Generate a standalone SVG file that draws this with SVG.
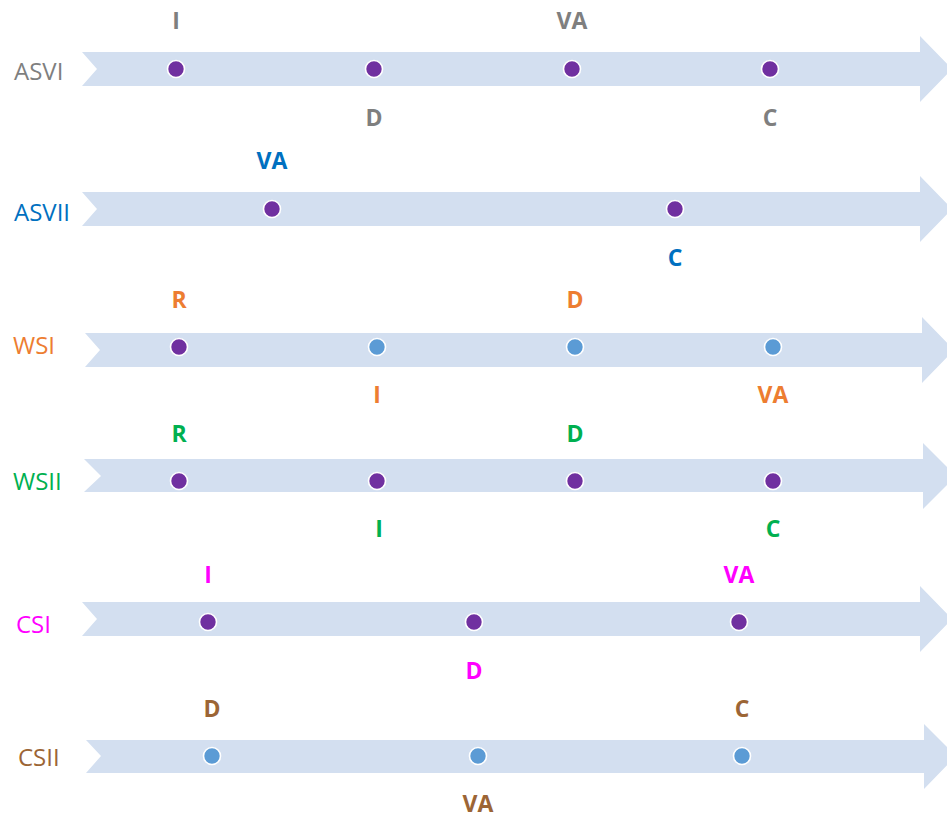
<svg xmlns="http://www.w3.org/2000/svg" width="947" height="819" viewBox="0 0 947 819">
<style>
.band{fill:#d3dff0}
.dp{fill:#7030a0;stroke:#fff;stroke-width:1.6}
.db{fill:#5b9bd5;stroke:#fff;stroke-width:1.6}
.row{font-family:"Open Sans","Liberation Sans",sans-serif;font-size:24px}
.lb{font-family:"Open Sans","Liberation Sans",sans-serif;font-size:23px;font-weight:bold;text-anchor:middle}
.gray{fill:#7f7f7f}.blue{fill:#0070c0}.orange{fill:#ed7d31}.green{fill:#00b050}.mag{fill:#ff00ff}.brown{fill:#9c6535}
</style>
<rect width="947" height="819" fill="#fff"/>
<g id="ASVI">
<path class="band" d="M82,52 L920,52 L920,36 L952,69 L920,102 L920,86 L82,86 L97,69 Z"/>
<text class="row gray" x="14" y="80">ASVI</text>
<circle class="dp" cx="176" cy="69" r="8.5"/><circle class="dp" cx="374" cy="69" r="8.5"/><circle class="dp" cx="572" cy="69" r="8.5"/><circle class="dp" cx="770" cy="69" r="8.5"/>
<text class="lb gray" x="176" y="29">I</text><text class="lb gray" x="572" y="29">VA</text>
<text class="lb gray" x="374" y="126">D</text><text class="lb gray" x="770" y="126">C</text>
</g>
<g id="ASVII">
<path class="band" d="M82,192 L920,192 L920,176 L952,209 L920,242 L920,226 L82,226 L97,209 Z"/>
<text class="row blue" x="14" y="221">ASVII</text>
<circle class="dp" cx="272" cy="209" r="8.5"/><circle class="dp" cx="675" cy="209" r="8.5"/>
<text class="lb blue" x="272" y="169">VA</text><text class="lb blue" x="675" y="266">C</text>
</g>
<g id="WSI">
<path class="band" d="M85,333 L922,333 L922,317 L954,350 L922,383 L922,367 L85,367 L100,350 Z"/>
<text class="row orange" x="13" y="354">WSI</text>
<circle class="dp" cx="179" cy="347" r="8.5"/><circle class="db" cx="377" cy="347" r="8.5"/><circle class="db" cx="575" cy="347" r="8.5"/><circle class="db" cx="773" cy="347" r="8.5"/>
<text class="lb orange" x="179" y="308">R</text><text class="lb orange" x="575" y="308">D</text>
<text class="lb orange" x="377" y="403">I</text><text class="lb orange" x="773" y="403">VA</text>
</g>
<g id="WSII">
<path class="band" d="M84,459 L923,459 L923,443 L956,476 L923,509 L923,492 L84,492 L101,476 Z"/>
<text class="row green" x="13" y="490">WSII</text>
<circle class="dp" cx="179" cy="481" r="8.5"/><circle class="dp" cx="377" cy="481" r="8.5"/><circle class="dp" cx="575" cy="481" r="8.5"/><circle class="dp" cx="773" cy="481" r="8.5"/>
<text class="lb green" x="179" y="442">R</text><text class="lb green" x="575" y="442">D</text>
<text class="lb green" x="379" y="537">I</text><text class="lb green" x="773" y="537">C</text>
</g>
<g id="CSI">
<path class="band" d="M82,602 L920,602 L920,586 L952,619 L920,652 L920,636 L82,636 L97,619 Z"/>
<text class="row mag" x="16" y="633">CSI</text>
<circle class="dp" cx="208" cy="622" r="8.5"/><circle class="dp" cx="474" cy="622" r="8.5"/><circle class="dp" cx="739" cy="622" r="8.5"/>
<text class="lb mag" x="208" y="583">I</text><text class="lb mag" x="739" y="583">VA</text>
<text class="lb mag" x="474" y="679">D</text>
</g>
<g id="CSII">
<path class="band" d="M86,740 L924,740 L924,724 L956,756 L924,789 L924,773 L86,773 L101,756 Z"/>
<text class="row brown" x="18" y="766">CSII</text>
<circle class="db" cx="212" cy="756" r="8.5"/><circle class="db" cx="478" cy="756" r="8.5"/><circle class="db" cx="742" cy="756" r="8.5"/>
<text class="lb brown" x="212" y="717">D</text><text class="lb brown" x="742" y="717">C</text>
<text class="lb brown" x="478" y="812">VA</text>
</g>
<g id="connectors"></g>
</svg>
